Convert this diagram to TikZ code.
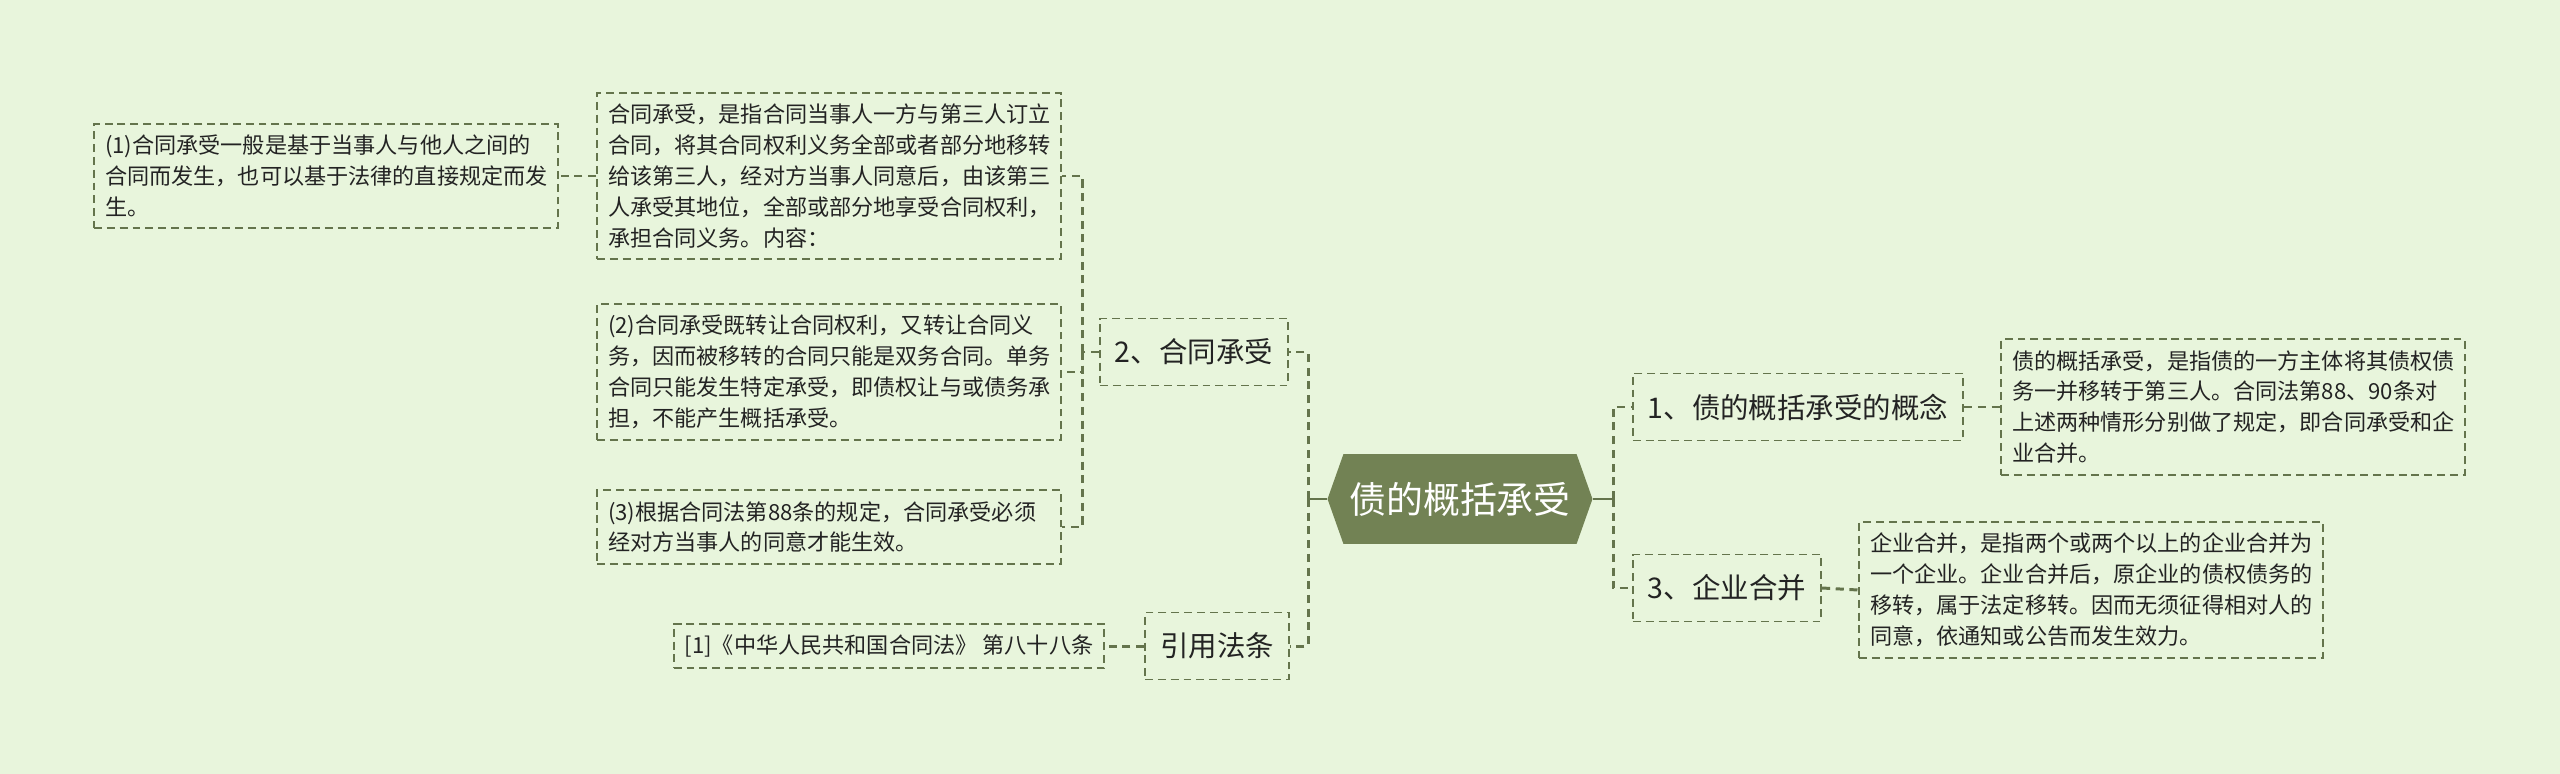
\documentclass[tikz,border=0pt]{standalone}
\usepackage{fontspec}
\setmainfont{Noto Sans CJK SC}
\usetikzlibrary{shapes.symbols}

\definecolor{bgc}{RGB}{232,245,220}
\definecolor{linec}{RGB}{100,116,76}
\definecolor{rootc}{RGB}{114,130,84}
\definecolor{textc}{RGB}{35,35,35}

\tikzset{
  boxline/.style={draw=linec, line width=1.1pt, dash pattern=on 4.5pt off 2.8pt, text=textc},
  note/.style={boxline, align=left, inner xsep=0.22cm, inner ysep=0.22cm, font=\fontsize{12.6pt}{17.6pt}\selectfont},
  detail/.style={note, text width=8.84cm},
  topic/.style={boxline, inner xsep=0.3cm, minimum height=1.34cm, font=\fontsize{16.2pt}{19pt}\selectfont},
  hub/.style={signal, signal to=west and east, signal pointer angle=141, fill=rootc, text=white,
    minimum width=5.3cm, minimum height=1.8cm, font=\fontsize{21pt}{24pt}\selectfont},
  link/.style={draw=linec, line width=1.7pt, dash pattern=on 4.6pt off 3.2pt},
  stub/.style={draw=linec, line width=1.7pt},
}

\begin{document}
\begin{tikzpicture}[x=0.02cm, y=-0.02cm]
    \fill[bgc] (0,0) rectangle (2560,774);
    \useasboundingbox (0,0) rectangle (2560,774);

    % centre
    \node[hub] (root) at (1460,499) {债的概括承受};

    % left side
    \node[topic] (contract) at (1194,352) {2、合同承受};
    \node[topic] (lawref) at (1217,646) {引用法条};
    \node[detail] (def) at (829,176) {合同承受，是指合同当事人一方与第三人订立\\合同，将其合同权利义务全部或者部分地移转\\给该第三人，经对方当事人同意后，由该第三\\人承受其地位，全部或部分地享受合同权利，\\承担合同义务。内容：};
    \node[detail] (basis) at (326,176) {(1)合同承受一般是基于当事人与他人之间的\\合同而发生，也可以基于法律的直接规定而发\\生。};
    \node[detail] (bilateral) at (829,372) {(2)合同承受既转让合同权利，又转让合同义\\务，因而被移转的合同只能是双务合同。单务\\合同只能发生特定承受，即债权让与或债务承\\担，不能产生概括承受。};
    \node[detail] (consent) at (829,527) {(3)根据合同法第88条的规定，合同承受必须\\经对方当事人的同意才能生效。};
    \node[note] (article) at (889,646) {[1]《中华人民共和国合同法》 第八十八条};

    % right side
    \node[topic] (concept) at (1798,407) {1、债的概括承受的概念};
    \node[topic] (merger) at (1727,588) {3、企业合并};
    \node[detail] (conceptdef) at (2233,407) {债的概括承受，是指债的一方主体将其债权债\\务一并移转于第三人。合同法第88、90条对\\上述两种情形分别做了规定，即合同承受和企\\业合并。};
    \node[detail] (mergerdef) at (2091,590) {企业合并，是指两个或两个以上的企业合并为\\一个企业。企业合并后，原企业的债权债务的\\移转，属于法定移转。因而无须征得相对人的\\同意，依通知或公告而发生效力。};

    % spines
    \coordinate (lspine) at (1308,499);
    \coordinate (rspine) at (1613,499);
    \coordinate (cspine) at (1082,352);

    \draw[stub] (root.west) -- (lspine);
    \draw[stub] (root.east) -- (rspine);
    \draw[link] (lspine) |- (contract.east);
    \draw[link] (lspine) |- (lawref.east);
    \draw[link] (rspine) |- (concept.west);
    \draw[link] (rspine) |- (merger.west);

    \draw[link] (contract.west) -- (cspine);
    \draw[link] (cspine) |- (def.east);
    \draw[link] (cspine) |- (bilateral.east);
    \draw[link] (cspine) |- (consent.east);
    \draw[link] (def.west) -- (basis.east);
    \draw[link] (lawref.west) -- (article.east);
    \draw[link] (concept.east) -- (conceptdef.west);
    \draw[link] (merger.east) -- (mergerdef.west);
\end{tikzpicture}
\end{document}
